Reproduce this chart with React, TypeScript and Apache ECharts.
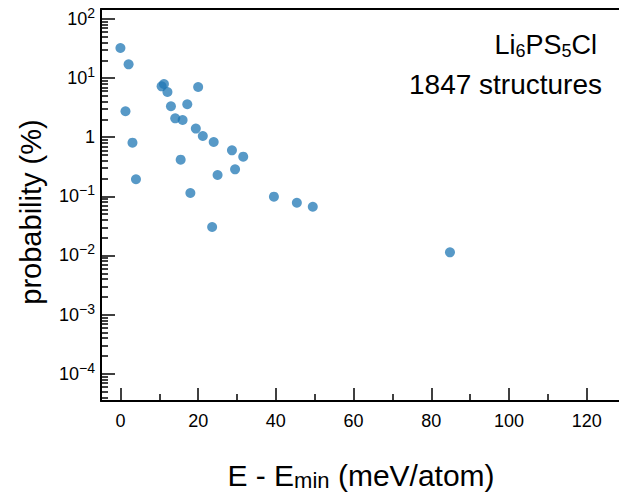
import { useEffect, useRef } from 'react';
import * as echarts from 'echarts';

// Energy above minimum (meV/atom)
const energy = [0, 2.1, 1.3, 3.1, 4.0, 10.6, 11.2, 12.1, 13.0, 14.1, 16.0, 17.2, 20.0, 15.5, 19.4, 21.2, 18.0, 24.0, 25.0, 23.6, 28.7, 31.6, 29.5, 39.5, 45.4, 49.5, 84.8];
// Probability (%)
const probability = [32.3, 17.1, 2.75, 0.81, 0.195, 7.27, 7.96, 5.82, 3.34, 2.09, 1.96, 3.61, 7.08, 0.417, 1.4, 1.05, 0.114, 0.83, 0.23, 0.0303, 0.6, 0.469, 0.287, 0.0987, 0.078, 0.0668, 0.0113];

const xMajorTicks = [0, 20, 40, 60, 80, 100, 120];
const xMinorTicks = [10, 30, 50, 70, 90, 110];
const yDecades = [-4, -3, -2, -1, 0, 1, 2];
const yMinorMultipliers = [2, 3, 4, 5, 6, 7, 8, 9];
const yMinorDecades = [-5, -4, -3, -2, -1, 0, 1, 2];

const X_MIN = -5;
const X_MAX = 128.3;
const Y_MIN = -4.461;
const Y_MAX = 2.169;
const FONT = '"Liberation Sans", Arial, Helvetica, sans-serif';

export default function App() {
  const ref = useRef<HTMLDivElement>(null);
  useEffect(() => {
    const chart = echarts.init(ref.current!, null, { renderer: 'svg' });
    const yMinorTicks: number[] = [];
    yMinorDecades.forEach((d) => yMinorMultipliers.forEach((m) => yMinorTicks.push(d + Math.log10(m))));
    const lineStyle = { color: '#000', width: 2 };
    const tickStyle = { color: '#000', width: 1.5 };
    const hidden = { show: false };
    chart.setOption({
      animation: false,
      grid: { left: 101, top: 9, right: 0, bottom: 95, containLabel: false, outerBoundsMode: 'none' },
      xAxis: [
        {
          type: 'value', min: X_MIN, max: X_MAX, position: 'bottom',
          axisLine: { show: true, onZero: false, lineStyle },
          axisTick: { show: true, inside: true, length: 13, customValues: xMajorTicks, lineStyle: tickStyle },
          axisLabel: { show: true, customValues: xMajorTicks, margin: 11, fontSize: 18, color: '#000', fontFamily: FONT },
          splitLine: hidden,
        },
        {
          type: 'value', min: X_MIN, max: X_MAX, position: 'bottom',
          axisLine: { show: false, onZero: false },
          axisTick: { show: true, inside: true, length: 7, customValues: xMinorTicks, lineStyle: tickStyle },
          axisLabel: hidden, splitLine: hidden,
        },
        {
          type: 'value', min: X_MIN, max: X_MAX, position: 'top',
          axisLine: { show: true, onZero: false, lineStyle },
          axisTick: hidden, axisLabel: hidden, splitLine: hidden,
        },
      ],
      yAxis: [
        {
          type: 'value', min: Y_MIN, max: Y_MAX, position: 'left',
          axisLine: { show: true, onZero: false, lineStyle },
          axisTick: { show: true, inside: true, length: 14, customValues: yDecades, lineStyle: tickStyle },
          axisLabel: {
            show: true, customValues: yDecades, margin: 6,
            formatter: (v: number) => {
              const n = Math.round(v);
              if (n === 0) return '{b|1}';
              return `{b|10}{sup|${n < 0 ? '\u2212' : ''}${Math.abs(n)}}`;
            },
            rich: {
              b: { fontSize: 18, color: '#000', fontFamily: FONT },
              sup: { fontSize: 14, color: '#000', fontFamily: FONT, padding: [0, 0, 12, 0] },
            },
          },
          splitLine: hidden,
        },
        {
          type: 'value', min: Y_MIN, max: Y_MAX, position: 'left',
          axisLine: { show: false, onZero: false },
          axisTick: { show: true, inside: true, length: 7, customValues: yMinorTicks, lineStyle: tickStyle },
          axisLabel: hidden, splitLine: hidden,
        },
      ],
      series: [
        {
          type: 'scatter', xAxisIndex: 0, yAxisIndex: 0,
          data: energy.map((e, i) => [e, Math.log10(probability[i])]),
          symbolSize: 10,
          itemStyle: { color: '#1f77b4', opacity: 0.75 },
        },
      ],
      graphic: [
        {
          type: 'text', x: 31, y: 212, rotation: Math.PI / 2,
          style: { text: 'probability (%)', fontSize: 29, fontFamily: FONT, fill: '#000', align: 'center', verticalAlign: 'middle' },
        },
        {
          type: 'text', x: 361, y: 475,
          style: {
            text: 'E - E{sub|min} (meV/atom)', fontSize: 30, fontFamily: FONT, fill: '#000', align: 'center', verticalAlign: 'middle',
            rich: { sub: { fontSize: 22, fontFamily: FONT, fill: '#000', padding: [10, 0, 0, 0] } },
          },
        },
        {
          type: 'text', x: 597, y: 45,
          style: {
            text: 'Li{s|6}PS{s|5}Cl', fontSize: 27, fontFamily: FONT, fill: '#000', align: 'right', verticalAlign: 'middle',
            rich: { s: { fontSize: 18, fontFamily: FONT, fill: '#000', padding: [11, 0, 0, 0] } },
          },
        },
        {
          type: 'text', x: 602, y: 84,
          style: { text: '1847 structures', fontSize: 28, fontFamily: FONT, fill: '#000', align: 'right', verticalAlign: 'middle' },
        },
      ],
    });
    return () => chart.dispose();
  }, []);
  return <div ref={ref} style={{ position: 'absolute', left: 0, top: 0, width: 619, height: 496 }} />;
}
